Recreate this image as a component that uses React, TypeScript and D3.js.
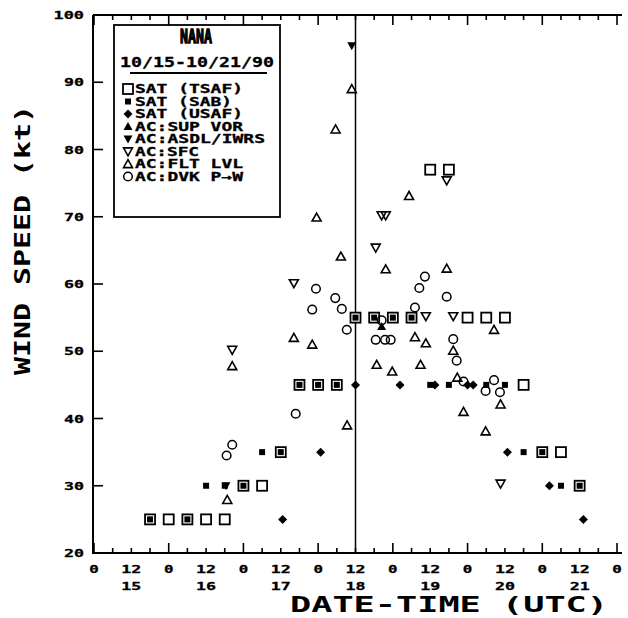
import * as d3 from 'd3';

const FONT = '"DejaVu Sans Mono", "Liberation Mono", monospace';

// [day of Oct 1990, hour UTC, wind kt]
const tsaf = [
  [15, 18, 25], [16, 0, 25], [16, 6, 25], [16, 12, 25], [16, 18, 25],
  [17, 0, 30], [17, 6, 30], [17, 12, 35], [17, 18, 45], [18, 0, 45], [18, 6, 45],
  [18, 12, 55], [18, 18, 55], [19, 0, 55], [19, 6, 55], [19, 12, 77], [19, 18, 77],
  [20, 0, 55], [20, 6, 55], [20, 12, 55], [20, 18, 45], [21, 0, 35], [21, 6, 35], [21, 12, 30],
];
const sab = [
  [15, 18, 25], [16, 6, 25], [16, 12, 30], [16, 18, 30], [17, 0, 30], [17, 6, 35], [17, 12, 35],
  [17, 18, 45], [18, 0, 45], [18, 6, 45], [18, 12, 55], [18, 18, 55], [19, 0, 55], [19, 6, 55],
  [19, 12, 45], [19, 18, 45], [20, 6, 45], [20, 12, 45], [20, 18, 35], [21, 0, 35], [21, 6, 30], [21, 12, 30],
];
const usaf = [
  [17, 12.6, 25], [18, 0.8, 35], [18, 12, 45], [19, 2.3, 45], [19, 13.5, 45], [20, 0, 45],
  [20, 1.8, 45], [20, 12.8, 35], [21, 2.3, 30], [21, 13.2, 25],
];
const supVor = [[18, 20.4, 53.7]];
const asdl = [[16, 18.4, 30], [18, 10.8, 95.4]];
const sfc = [
  [16, 20.4, 50.2], [17, 16.2, 60.1], [18, 18.5, 65.4], [18, 20.4, 70.2], [18, 21.7, 70.2],
  [19, 10.6, 55.2], [19, 17.3, 75.4], [19, 19.4, 55.2], [20, 10.6, 30.3],
];
const fltLvl = [
  [16, 18.8, 27.9], [16, 20.4, 47.8], [17, 16.2, 52], [17, 22.1, 51], [17, 23.5, 69.9],
  [18, 5.6, 83], [18, 7.3, 64.1], [18, 9.3, 39], [18, 10.8, 89], [18, 18.8, 48],
  [18, 21.7, 62.2], [18, 23.8, 47], [19, 5.2, 73.1], [19, 7.1, 52.1], [19, 8.9, 48],
  [19, 10.6, 51.2], [19, 17.3, 62.3], [19, 19.4, 50.1], [19, 20.7, 46.1], [19, 22.7, 41],
  [20, 5.8, 38.1], [20, 8.5, 53.2], [20, 10.6, 42.1],
];
const dvk = [
  [16, 18.6, 34.5], [16, 20.4, 36.1], [17, 16.8, 40.7], [17, 22.1, 56.2], [17, 23.3, 59.3],
  [18, 5.5, 57.9], [18, 7.6, 56.3], [18, 9.2, 53.2], [18, 18.5, 51.7], [18, 20.4, 54.6],
  [18, 21.5, 51.7], [18, 23.3, 51.7], [19, 7.1, 56.5], [19, 8.5, 59.4], [19, 10.3, 61.1],
  [19, 17.3, 58.1], [19, 19.4, 51.8], [19, 20.5, 48.6], [19, 22.7, 45.5], [20, 5.8, 44.1],
  [20, 8.5, 45.7], [20, 10.4, 43.9],
];

const yTicks = [20, 30, 40, 50, 60, 70, 80, 90, 100];
const days = [15, 16, 17, 18, 19, 20, 21];
const legendItems = ['SAT (TSAF)', 'SAT (SAB)', 'SAT (USAF)', 'AC:SUP VOR', 'AC:ASDL/IWRS', 'AC:SFC', 'AC:FLT LVL', 'AC:DVK P\u2192W'];
const legendKinds = ['sq', 'fsq', 'dia', 'tup', 'tdn', 'otdn', 'otup', 'circ'];

const x = d3.scaleLinear().domain([15 * 24, 22 * 24]).range([94, 617]);
const y = d3.scaleLinear().domain([20, 100]).range([553, 15]);
const px = (d: number[]) => x(d[0] * 24 + d[1]);
const py = (d: number[]) => y(d[2]);

function Marker({ kind, cx, cy }: { kind: string; cx: number; cy: number }) {
  const w = 9, h = 8;
  const up = `M${cx},${cy - h * 0.55}L${cx + w / 2},${cy + h * 0.45}L${cx - w / 2},${cy + h * 0.45}Z`;
  const dn = `M${cx},${cy + h * 0.55}L${cx + w / 2},${cy - h * 0.45}L${cx - w / 2},${cy - h * 0.45}Z`;
  switch (kind) {
    case 'sq':
      return <rect x={cx - 5} y={cy - 5} width={10} height={10} fill="#fff" stroke="#000" strokeWidth={1.8} />;
    case 'fsq':
      return <rect x={cx - 3} y={cy - 3} width={6} height={6} fill="#000" />;
    case 'dia':
      return <path d={`M${cx},${cy - 4.5}L${cx + 4.5},${cy}L${cx},${cy + 4.5}L${cx - 4.5},${cy}Z`} fill="#000" />;
    case 'tup':
      return <path d={up} fill="#000" />;
    case 'tdn':
      return <path d={dn} fill="#000" />;
    case 'otup':
      return <path d={up} fill="none" stroke="#000" strokeWidth={1.6} />;
    case 'otdn':
      return <path d={dn} fill="none" stroke="#000" strokeWidth={1.6} />;
    default:
      return <circle cx={cx} cy={cy} r={4.3} fill="none" stroke="#000" strokeWidth={1.5} />;
  }
}

export default function App() {
  const hours6 = d3.range(15 * 24, 22 * 24 + 1, 6);
  const hours12 = d3.range(15 * 24, 22 * 24 + 1, 12);
  const series: [number[][], string][] = [
    [tsaf, 'sq'], [sab, 'fsq'], [usaf, 'dia'], [supVor, 'tup'], [asdl, 'tdn'],
    [sfc, 'otdn'], [fltLvl, 'otup'], [dvk, 'circ'],
  ];
  const lab = { fontFamily: FONT, fontWeight: 700 as const };
  return (
    <svg width={628} height={618} style={{ position: 'absolute', left: 0, top: 0, background: '#fff' }}>
      {/* frame */}
      <path d={`M93,${y(100)}H622`} stroke="#000" strokeWidth={2} />
      <path d={`M93,${y(100)}V${y(20)}H622`} fill="none" stroke="#000" strokeWidth={2} />
      {yTicks.map((t) => (
        <g key={t}>
          <line x1={93} x2={103} y1={y(t)} y2={y(t)} stroke="#000" strokeWidth={1.6} />
          <text x={84} y={y(t) + 4} textAnchor="end" fontSize={11} {...lab} stroke="#000" strokeWidth={0.3}
            textLength={String(t).length * 10.5 - 1} lengthAdjust="spacingAndGlyphs">{t}</text>
        </g>
      ))}
      {hours6.map((hh) => {
        const len = hh % 24 === 0 ? 10 : 5;
        return (
          <g key={hh}>
            <line x1={x(hh)} x2={x(hh)} y1={y(20)} y2={y(20) - len} stroke="#000" strokeWidth={1.6} />
            <line x1={x(hh)} x2={x(hh)} y1={y(100)} y2={y(100) + len} stroke="#000" strokeWidth={1.6} />
          </g>
        );
      })}
      {hours12.map((hh) => {
        const s = hh % 24 === 0 ? '0' : '12';
        return (
          <text key={hh} x={x(hh)} y={573} textAnchor="middle" fontSize={11} {...lab} stroke="#000" strokeWidth={0.3}
            textLength={s.length * 10.5 - 1} lengthAdjust="spacingAndGlyphs">{s}</text>
        );
      })}
      {days.map((d) => (
        <text key={d} x={x(d * 24 + 12)} y={590} textAnchor="middle" fontSize={11} {...lab} stroke="#000" strokeWidth={0.3}
          textLength={20} lengthAdjust="spacingAndGlyphs">{d}</text>
      ))}
      <line x1={x(18 * 24 + 12)} x2={x(18 * 24 + 12)} y1={y(100)} y2={y(20)} stroke="#000" strokeWidth={1.5} />

      {/* titles */}
      <text x={449} y={612} textAnchor="middle" fontSize={21} {...lab}
        textLength={318} lengthAdjust="spacingAndGlyphs">DATE-TIME (UTC)</text>
      <text transform="translate(30,240) rotate(-90)" textAnchor="middle" fontSize={22} {...lab}
        textLength={270} lengthAdjust="spacingAndGlyphs">WIND SPEED (kt)</text>

      {/* data */}
      {series.map(([data, kind]) => (
        <g key={kind}>
          {data.map((d, i) => <Marker key={i} kind={kind} cx={px(d)} cy={py(d)} />)}
        </g>
      ))}

      {/* legend */}
      <rect x={114} y={25} width={166} height={192} fill="#fff" stroke="#000" strokeWidth={1.8} />
      <text x={196} y={43} textAnchor="middle" fontSize={20} {...lab}
        textLength={32} lengthAdjust="spacingAndGlyphs" stroke="#000" strokeWidth={1.3}>NANA</text>
      <text x={197} y={67} textAnchor="middle" fontSize={13.5} {...lab} stroke="#000" strokeWidth={0.3}
        textLength={154} lengthAdjust="spacingAndGlyphs">10/15-10/21/90</text>
      <line x1={130} x2={267} y1={73} y2={73} stroke="#000" strokeWidth={1.8} />
      {legendItems.map((s, i) => {
        const cy = 89 + i * 12.5;
        return (
          <g key={s}>
            <Marker kind={legendKinds[i]} cx={128} cy={cy} />
            <text x={135} y={cy + 4} fontSize={11.5} {...lab} stroke="#000" strokeWidth={0.3}
              textLength={s.length * 11 - 2} lengthAdjust="spacingAndGlyphs">{s}</text>
          </g>
        );
      })}
    </svg>
  );
}
